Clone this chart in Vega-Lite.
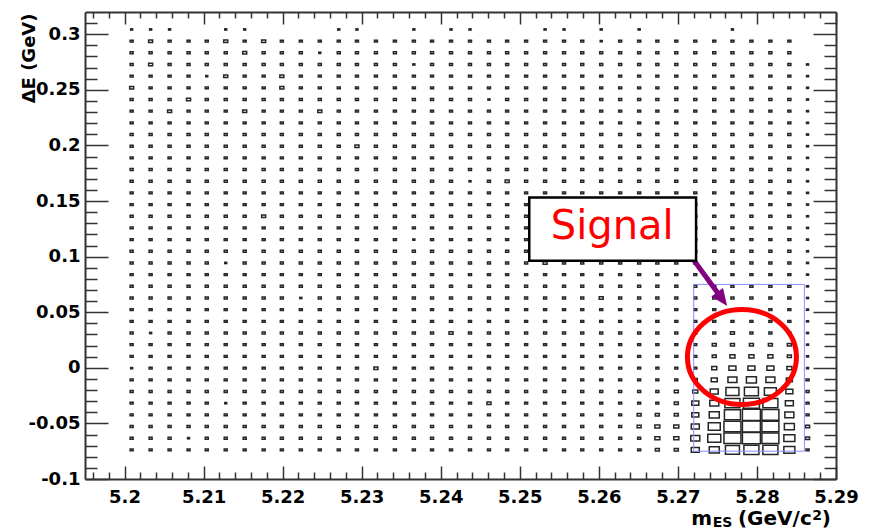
{
"$schema":"https://vega.github.io/schema/vega-lite/v6.json",
"width":751,"height":467,
"autosize":{"type":"none"},
"padding":{"left":85,"top":12,"right":34,"bottom":52},
"background":"white",
"config":{"view":{"stroke":null},"axis":{"grid":false,"domainColor":"#333","domainWidth":2,"tickColor":"#333","tickWidth":1.5,"labelFont":"DejaVu Sans","labelFontSize":18,"labelFontWeight":"bold","labelColor":"#000","titleFont":"DejaVu Sans","titleFontWeight":"bold","titleFontSize":18,"titleColor":"#000","labelFlush":false,"labelOverlap":false}},
"datasets":{"cells":[
{"mes":5.2009,"de":-0.0738,"n":3},{"mes":5.2033,"de":-0.0738,"n":3},{"mes":5.2057,"de":-0.0738,"n":3},{"mes":5.2081,"de":-0.0738,"n":3},{"mes":5.2104,"de":-0.0738,"n":3},{"mes":5.2128,"de":-0.0738,"n":3},{"mes":5.2152,"de":-0.0738,"n":3},{"mes":5.2176,"de":-0.0738,"n":3},{"mes":5.2199,"de":-0.0738,"n":3},{"mes":5.2223,"de":-0.0738,"n":3},{"mes":5.2247,"de":-0.0738,"n":3},{"mes":5.2271,"de":-0.0738,"n":3},{"mes":5.2294,"de":-0.0738,"n":3},{"mes":5.2318,"de":-0.0738,"n":3},{"mes":5.2342,"de":-0.0738,"n":3},{"mes":5.2366,"de":-0.0738,"n":3},{"mes":5.2389,"de":-0.0738,"n":3},{"mes":5.2413,"de":-0.0738,"n":3},{"mes":5.2437,"de":-0.0738,"n":3},{"mes":5.2461,"de":-0.0738,"n":3},{"mes":5.2484,"de":-0.0738,"n":3},{"mes":5.2508,"de":-0.0738,"n":3},{"mes":5.2532,"de":-0.0738,"n":3},{"mes":5.2556,"de":-0.0738,"n":3},{"mes":5.2579,"de":-0.0738,"n":3},{"mes":5.2603,"de":-0.0738,"n":3},{"mes":5.2627,"de":-0.0738,"n":3},{"mes":5.2651,"de":-0.0738,"n":3},{"mes":5.2674,"de":-0.0738,"n":4},{"mes":5.2698,"de":-0.0738,"n":4},{"mes":5.2722,"de":-0.0738,"n":8},{"mes":5.2746,"de":-0.0738,"n":10},{"mes":5.2769,"de":-0.0738,"n":14},{"mes":5.2793,"de":-0.0738,"n":15},{"mes":5.2817,"de":-0.0738,"n":15},{"mes":5.2841,"de":-0.0738,"n":11},{"mes":5.2864,"de":-0.0738,"n":3},
{"mes":5.2009,"de":-0.0633,"n":3},{"mes":5.2033,"de":-0.0633,"n":3},{"mes":5.2057,"de":-0.0633,"n":3},{"mes":5.2081,"de":-0.0633,"n":2},{"mes":5.2104,"de":-0.0633,"n":3},{"mes":5.2128,"de":-0.0633,"n":3},{"mes":5.2152,"de":-0.0633,"n":3},{"mes":5.2176,"de":-0.0633,"n":3},{"mes":5.2199,"de":-0.0633,"n":3},{"mes":5.2223,"de":-0.0633,"n":3},{"mes":5.2247,"de":-0.0633,"n":3},{"mes":5.2271,"de":-0.0633,"n":3},{"mes":5.2294,"de":-0.0633,"n":3},{"mes":5.2318,"de":-0.0633,"n":3},{"mes":5.2342,"de":-0.0633,"n":3},{"mes":5.2366,"de":-0.0633,"n":3},{"mes":5.2389,"de":-0.0633,"n":3},{"mes":5.2413,"de":-0.0633,"n":3},{"mes":5.2437,"de":-0.0633,"n":3},{"mes":5.2461,"de":-0.0633,"n":3},{"mes":5.2484,"de":-0.0633,"n":3},{"mes":5.2508,"de":-0.0633,"n":3},{"mes":5.2532,"de":-0.0633,"n":3},{"mes":5.2556,"de":-0.0633,"n":3},{"mes":5.2579,"de":-0.0633,"n":3},{"mes":5.2603,"de":-0.0633,"n":3},{"mes":5.2627,"de":-0.0633,"n":3},{"mes":5.2651,"de":-0.0633,"n":3},{"mes":5.2674,"de":-0.0633,"n":5},{"mes":5.2698,"de":-0.0633,"n":5},{"mes":5.2722,"de":-0.0633,"n":9},{"mes":5.2746,"de":-0.0633,"n":13},{"mes":5.2769,"de":-0.0633,"n":17},{"mes":5.2793,"de":-0.0633,"n":18},{"mes":5.2817,"de":-0.0633,"n":17},{"mes":5.2841,"de":-0.0633,"n":11},{"mes":5.2864,"de":-0.0633,"n":4},
{"mes":5.2009,"de":-0.0528,"n":3},{"mes":5.2033,"de":-0.0528,"n":3},{"mes":5.2057,"de":-0.0528,"n":3},{"mes":5.2081,"de":-0.0528,"n":3},{"mes":5.2104,"de":-0.0528,"n":3},{"mes":5.2128,"de":-0.0528,"n":3},{"mes":5.2152,"de":-0.0528,"n":3},{"mes":5.2176,"de":-0.0528,"n":3},{"mes":5.2199,"de":-0.0528,"n":3},{"mes":5.2223,"de":-0.0528,"n":3},{"mes":5.2247,"de":-0.0528,"n":3},{"mes":5.2271,"de":-0.0528,"n":3},{"mes":5.2294,"de":-0.0528,"n":3},{"mes":5.2318,"de":-0.0528,"n":3},{"mes":5.2342,"de":-0.0528,"n":3},{"mes":5.2366,"de":-0.0528,"n":3},{"mes":5.2389,"de":-0.0528,"n":3},{"mes":5.2413,"de":-0.0528,"n":3},{"mes":5.2437,"de":-0.0528,"n":3},{"mes":5.2461,"de":-0.0528,"n":3},{"mes":5.2484,"de":-0.0528,"n":3},{"mes":5.2508,"de":-0.0528,"n":3},{"mes":5.2532,"de":-0.0528,"n":3},{"mes":5.2556,"de":-0.0528,"n":3},{"mes":5.2579,"de":-0.0528,"n":3},{"mes":5.2603,"de":-0.0528,"n":3},{"mes":5.2627,"de":-0.0528,"n":3},{"mes":5.2651,"de":-0.0528,"n":4},{"mes":5.2674,"de":-0.0528,"n":5},{"mes":5.2698,"de":-0.0528,"n":5},{"mes":5.2722,"de":-0.0528,"n":8},{"mes":5.2746,"de":-0.0528,"n":12},{"mes":5.2769,"de":-0.0528,"n":17},{"mes":5.2793,"de":-0.0528,"n":18},{"mes":5.2817,"de":-0.0528,"n":17},{"mes":5.2841,"de":-0.0528,"n":10},{"mes":5.2864,"de":-0.0528,"n":4},
{"mes":5.2009,"de":-0.0423,"n":3},{"mes":5.2033,"de":-0.0423,"n":3},{"mes":5.2057,"de":-0.0423,"n":3},{"mes":5.2081,"de":-0.0423,"n":3},{"mes":5.2104,"de":-0.0423,"n":3},{"mes":5.2128,"de":-0.0423,"n":3},{"mes":5.2152,"de":-0.0423,"n":3},{"mes":5.2176,"de":-0.0423,"n":3},{"mes":5.2199,"de":-0.0423,"n":3},{"mes":5.2223,"de":-0.0423,"n":3},{"mes":5.2247,"de":-0.0423,"n":3},{"mes":5.2271,"de":-0.0423,"n":3},{"mes":5.2294,"de":-0.0423,"n":3},{"mes":5.2318,"de":-0.0423,"n":3},{"mes":5.2342,"de":-0.0423,"n":3},{"mes":5.2366,"de":-0.0423,"n":3},{"mes":5.2389,"de":-0.0423,"n":3},{"mes":5.2413,"de":-0.0423,"n":3},{"mes":5.2437,"de":-0.0423,"n":3},{"mes":5.2461,"de":-0.0423,"n":3},{"mes":5.2484,"de":-0.0423,"n":3},{"mes":5.2508,"de":-0.0423,"n":3},{"mes":5.2532,"de":-0.0423,"n":3},{"mes":5.2556,"de":-0.0423,"n":3},{"mes":5.2579,"de":-0.0423,"n":3},{"mes":5.2603,"de":-0.0423,"n":3},{"mes":5.2627,"de":-0.0423,"n":3},{"mes":5.2651,"de":-0.0423,"n":4},{"mes":5.2674,"de":-0.0423,"n":4},{"mes":5.2698,"de":-0.0423,"n":4},{"mes":5.2722,"de":-0.0423,"n":7},{"mes":5.2746,"de":-0.0423,"n":10},{"mes":5.2769,"de":-0.0423,"n":16},{"mes":5.2793,"de":-0.0423,"n":18},{"mes":5.2817,"de":-0.0423,"n":17},{"mes":5.2841,"de":-0.0423,"n":9},{"mes":5.2864,"de":-0.0423,"n":3},
{"mes":5.2009,"de":-0.0318,"n":3},{"mes":5.2033,"de":-0.0318,"n":3},{"mes":5.2057,"de":-0.0318,"n":3},{"mes":5.2081,"de":-0.0318,"n":3},{"mes":5.2104,"de":-0.0318,"n":3},{"mes":5.2128,"de":-0.0318,"n":2},{"mes":5.2152,"de":-0.0318,"n":3},{"mes":5.2176,"de":-0.0318,"n":3},{"mes":5.2199,"de":-0.0318,"n":3},{"mes":5.2223,"de":-0.0318,"n":3},{"mes":5.2247,"de":-0.0318,"n":3},{"mes":5.2271,"de":-0.0318,"n":3},{"mes":5.2294,"de":-0.0318,"n":3},{"mes":5.2318,"de":-0.0318,"n":3},{"mes":5.2342,"de":-0.0318,"n":3},{"mes":5.2366,"de":-0.0318,"n":3},{"mes":5.2389,"de":-0.0318,"n":3},{"mes":5.2413,"de":-0.0318,"n":3},{"mes":5.2437,"de":-0.0318,"n":3},{"mes":5.2461,"de":-0.0318,"n":4},{"mes":5.2484,"de":-0.0318,"n":3},{"mes":5.2508,"de":-0.0318,"n":3},{"mes":5.2532,"de":-0.0318,"n":3},{"mes":5.2556,"de":-0.0318,"n":3},{"mes":5.2579,"de":-0.0318,"n":3},{"mes":5.2603,"de":-0.0318,"n":3},{"mes":5.2627,"de":-0.0318,"n":3},{"mes":5.2651,"de":-0.0318,"n":3},{"mes":5.2674,"de":-0.0318,"n":3},{"mes":5.2698,"de":-0.0318,"n":4},{"mes":5.2722,"de":-0.0318,"n":7},{"mes":5.2746,"de":-0.0318,"n":9},{"mes":5.2769,"de":-0.0318,"n":15},{"mes":5.2793,"de":-0.0318,"n":16},{"mes":5.2817,"de":-0.0318,"n":15},{"mes":5.2841,"de":-0.0318,"n":8},{"mes":5.2864,"de":-0.0318,"n":3},
{"mes":5.2009,"de":-0.0213,"n":3},{"mes":5.2033,"de":-0.0213,"n":3},{"mes":5.2057,"de":-0.0213,"n":3},{"mes":5.2081,"de":-0.0213,"n":3},{"mes":5.2104,"de":-0.0213,"n":3},{"mes":5.2128,"de":-0.0213,"n":3},{"mes":5.2152,"de":-0.0213,"n":3},{"mes":5.2176,"de":-0.0213,"n":3},{"mes":5.2199,"de":-0.0213,"n":3},{"mes":5.2223,"de":-0.0213,"n":3},{"mes":5.2247,"de":-0.0213,"n":3},{"mes":5.2271,"de":-0.0213,"n":3},{"mes":5.2294,"de":-0.0213,"n":3},{"mes":5.2318,"de":-0.0213,"n":3},{"mes":5.2342,"de":-0.0213,"n":3},{"mes":5.2366,"de":-0.0213,"n":3},{"mes":5.2389,"de":-0.0213,"n":3},{"mes":5.2413,"de":-0.0213,"n":3},{"mes":5.2437,"de":-0.0213,"n":3},{"mes":5.2461,"de":-0.0213,"n":3},{"mes":5.2484,"de":-0.0213,"n":3},{"mes":5.2508,"de":-0.0213,"n":3},{"mes":5.2532,"de":-0.0213,"n":3},{"mes":5.2556,"de":-0.0213,"n":3},{"mes":5.2579,"de":-0.0213,"n":3},{"mes":5.2603,"de":-0.0213,"n":3},{"mes":5.2627,"de":-0.0213,"n":3},{"mes":5.2651,"de":-0.0213,"n":3},{"mes":5.2674,"de":-0.0213,"n":3},{"mes":5.2698,"de":-0.0213,"n":4},{"mes":5.2722,"de":-0.0213,"n":5},{"mes":5.2746,"de":-0.0213,"n":8},{"mes":5.2769,"de":-0.0213,"n":13},{"mes":5.2793,"de":-0.0213,"n":14},{"mes":5.2817,"de":-0.0213,"n":12},{"mes":5.2841,"de":-0.0213,"n":7},{"mes":5.2864,"de":-0.0213,"n":3},
{"mes":5.2009,"de":-0.0108,"n":3},{"mes":5.2033,"de":-0.0108,"n":3},{"mes":5.2057,"de":-0.0108,"n":3},{"mes":5.2081,"de":-0.0108,"n":3},{"mes":5.2104,"de":-0.0108,"n":3},{"mes":5.2128,"de":-0.0108,"n":3},{"mes":5.2152,"de":-0.0108,"n":3},{"mes":5.2176,"de":-0.0108,"n":3},{"mes":5.2199,"de":-0.0108,"n":3},{"mes":5.2223,"de":-0.0108,"n":3},{"mes":5.2247,"de":-0.0108,"n":3},{"mes":5.2271,"de":-0.0108,"n":3},{"mes":5.2294,"de":-0.0108,"n":3},{"mes":5.2318,"de":-0.0108,"n":3},{"mes":5.2342,"de":-0.0108,"n":3},{"mes":5.2366,"de":-0.0108,"n":3},{"mes":5.2389,"de":-0.0108,"n":3},{"mes":5.2413,"de":-0.0108,"n":3},{"mes":5.2437,"de":-0.0108,"n":3},{"mes":5.2461,"de":-0.0108,"n":3},{"mes":5.2484,"de":-0.0108,"n":3},{"mes":5.2508,"de":-0.0108,"n":3},{"mes":5.2532,"de":-0.0108,"n":3},{"mes":5.2556,"de":-0.0108,"n":3},{"mes":5.2579,"de":-0.0108,"n":3},{"mes":5.2603,"de":-0.0108,"n":3},{"mes":5.2627,"de":-0.0108,"n":3},{"mes":5.2651,"de":-0.0108,"n":3},{"mes":5.2674,"de":-0.0108,"n":3},{"mes":5.2698,"de":-0.0108,"n":3},{"mes":5.2722,"de":-0.0108,"n":4},{"mes":5.2746,"de":-0.0108,"n":6},{"mes":5.2769,"de":-0.0108,"n":9},{"mes":5.2793,"de":-0.0108,"n":10},{"mes":5.2817,"de":-0.0108,"n":9},{"mes":5.2841,"de":-0.0108,"n":6},{"mes":5.2864,"de":-0.0108,"n":3},
{"mes":5.2009,"de":-0.0003,"n":2},{"mes":5.2033,"de":-0.0003,"n":3},{"mes":5.2057,"de":-0.0003,"n":3},{"mes":5.2081,"de":-0.0003,"n":3},{"mes":5.2104,"de":-0.0003,"n":3},{"mes":5.2128,"de":-0.0003,"n":3},{"mes":5.2152,"de":-0.0003,"n":3},{"mes":5.2176,"de":-0.0003,"n":3},{"mes":5.2199,"de":-0.0003,"n":3},{"mes":5.2223,"de":-0.0003,"n":3},{"mes":5.2247,"de":-0.0003,"n":3},{"mes":5.2271,"de":-0.0003,"n":3},{"mes":5.2294,"de":-0.0003,"n":3},{"mes":5.2318,"de":-0.0003,"n":4},{"mes":5.2342,"de":-0.0003,"n":3},{"mes":5.2366,"de":-0.0003,"n":3},{"mes":5.2389,"de":-0.0003,"n":3},{"mes":5.2413,"de":-0.0003,"n":3},{"mes":5.2437,"de":-0.0003,"n":3},{"mes":5.2461,"de":-0.0003,"n":3},{"mes":5.2484,"de":-0.0003,"n":3},{"mes":5.2508,"de":-0.0003,"n":3},{"mes":5.2532,"de":-0.0003,"n":3},{"mes":5.2556,"de":-0.0003,"n":3},{"mes":5.2579,"de":-0.0003,"n":3},{"mes":5.2603,"de":-0.0003,"n":3},{"mes":5.2627,"de":-0.0003,"n":3},{"mes":5.2651,"de":-0.0003,"n":3},{"mes":5.2674,"de":-0.0003,"n":3},{"mes":5.2698,"de":-0.0003,"n":3},{"mes":5.2722,"de":-0.0003,"n":3},{"mes":5.2746,"de":-0.0003,"n":5},{"mes":5.2769,"de":-0.0003,"n":7},{"mes":5.2793,"de":-0.0003,"n":7},{"mes":5.2817,"de":-0.0003,"n":7},{"mes":5.2841,"de":-0.0003,"n":5},{"mes":5.2864,"de":-0.0003,"n":2},
{"mes":5.2009,"de":0.0103,"n":3},{"mes":5.2033,"de":0.0103,"n":3},{"mes":5.2057,"de":0.0103,"n":3},{"mes":5.2081,"de":0.0103,"n":3},{"mes":5.2104,"de":0.0103,"n":3},{"mes":5.2128,"de":0.0103,"n":3},{"mes":5.2152,"de":0.0103,"n":3},{"mes":5.2176,"de":0.0103,"n":3},{"mes":5.2199,"de":0.0103,"n":3},{"mes":5.2223,"de":0.0103,"n":3},{"mes":5.2247,"de":0.0103,"n":3},{"mes":5.2271,"de":0.0103,"n":3},{"mes":5.2294,"de":0.0103,"n":3},{"mes":5.2318,"de":0.0103,"n":3},{"mes":5.2342,"de":0.0103,"n":3},{"mes":5.2366,"de":0.0103,"n":3},{"mes":5.2389,"de":0.0103,"n":3},{"mes":5.2413,"de":0.0103,"n":3},{"mes":5.2437,"de":0.0103,"n":3},{"mes":5.2461,"de":0.0103,"n":3},{"mes":5.2484,"de":0.0103,"n":3},{"mes":5.2508,"de":0.0103,"n":3},{"mes":5.2532,"de":0.0103,"n":3},{"mes":5.2556,"de":0.0103,"n":3},{"mes":5.2579,"de":0.0103,"n":3},{"mes":5.2603,"de":0.0103,"n":3},{"mes":5.2627,"de":0.0103,"n":3},{"mes":5.2651,"de":0.0103,"n":3},{"mes":5.2674,"de":0.0103,"n":3},{"mes":5.2698,"de":0.0103,"n":3},{"mes":5.2722,"de":0.0103,"n":3},{"mes":5.2746,"de":0.0103,"n":4},{"mes":5.2769,"de":0.0103,"n":5},{"mes":5.2793,"de":0.0103,"n":5},{"mes":5.2817,"de":0.0103,"n":5},{"mes":5.2841,"de":0.0103,"n":4},{"mes":5.2864,"de":0.0103,"n":2},
{"mes":5.2009,"de":0.0208,"n":3},{"mes":5.2033,"de":0.0208,"n":3},{"mes":5.2057,"de":0.0208,"n":3},{"mes":5.2081,"de":0.0208,"n":3},{"mes":5.2104,"de":0.0208,"n":3},{"mes":5.2128,"de":0.0208,"n":3},{"mes":5.2152,"de":0.0208,"n":3},{"mes":5.2176,"de":0.0208,"n":3},{"mes":5.2199,"de":0.0208,"n":3},{"mes":5.2223,"de":0.0208,"n":3},{"mes":5.2247,"de":0.0208,"n":3},{"mes":5.2271,"de":0.0208,"n":3},{"mes":5.2294,"de":0.0208,"n":3},{"mes":5.2318,"de":0.0208,"n":3},{"mes":5.2342,"de":0.0208,"n":3},{"mes":5.2366,"de":0.0208,"n":3},{"mes":5.2389,"de":0.0208,"n":3},{"mes":5.2413,"de":0.0208,"n":3},{"mes":5.2437,"de":0.0208,"n":3},{"mes":5.2461,"de":0.0208,"n":3},{"mes":5.2484,"de":0.0208,"n":3},{"mes":5.2508,"de":0.0208,"n":3},{"mes":5.2532,"de":0.0208,"n":3},{"mes":5.2556,"de":0.0208,"n":3},{"mes":5.2579,"de":0.0208,"n":3},{"mes":5.2603,"de":0.0208,"n":3},{"mes":5.2627,"de":0.0208,"n":3},{"mes":5.2651,"de":0.0208,"n":3},{"mes":5.2674,"de":0.0208,"n":3},{"mes":5.2698,"de":0.0208,"n":3},{"mes":5.2722,"de":0.0208,"n":3},{"mes":5.2746,"de":0.0208,"n":4},{"mes":5.2769,"de":0.0208,"n":4},{"mes":5.2793,"de":0.0208,"n":4},{"mes":5.2817,"de":0.0208,"n":4},{"mes":5.2841,"de":0.0208,"n":4},{"mes":5.2864,"de":0.0208,"n":2},
{"mes":5.2009,"de":0.0313,"n":3},{"mes":5.2033,"de":0.0313,"n":2},{"mes":5.2057,"de":0.0313,"n":3},{"mes":5.2081,"de":0.0313,"n":3},{"mes":5.2104,"de":0.0313,"n":3},{"mes":5.2128,"de":0.0313,"n":3},{"mes":5.2152,"de":0.0313,"n":3},{"mes":5.2176,"de":0.0313,"n":3},{"mes":5.2199,"de":0.0313,"n":3},{"mes":5.2223,"de":0.0313,"n":3},{"mes":5.2247,"de":0.0313,"n":3},{"mes":5.2271,"de":0.0313,"n":3},{"mes":5.2294,"de":0.0313,"n":3},{"mes":5.2318,"de":0.0313,"n":3},{"mes":5.2342,"de":0.0313,"n":3},{"mes":5.2366,"de":0.0313,"n":3},{"mes":5.2389,"de":0.0313,"n":3},{"mes":5.2413,"de":0.0313,"n":4},{"mes":5.2437,"de":0.0313,"n":3},{"mes":5.2461,"de":0.0313,"n":3},{"mes":5.2484,"de":0.0313,"n":3},{"mes":5.2508,"de":0.0313,"n":3},{"mes":5.2532,"de":0.0313,"n":3},{"mes":5.2556,"de":0.0313,"n":3},{"mes":5.2579,"de":0.0313,"n":3},{"mes":5.2603,"de":0.0313,"n":3},{"mes":5.2627,"de":0.0313,"n":3},{"mes":5.2651,"de":0.0313,"n":3},{"mes":5.2674,"de":0.0313,"n":3},{"mes":5.2698,"de":0.0313,"n":3},{"mes":5.2722,"de":0.0313,"n":3},{"mes":5.2746,"de":0.0313,"n":3},{"mes":5.2769,"de":0.0313,"n":4},{"mes":5.2793,"de":0.0313,"n":3},{"mes":5.2817,"de":0.0313,"n":3},{"mes":5.2841,"de":0.0313,"n":3},{"mes":5.2864,"de":0.0313,"n":2},
{"mes":5.2009,"de":0.0418,"n":3},{"mes":5.2033,"de":0.0418,"n":3},{"mes":5.2057,"de":0.0418,"n":3},{"mes":5.2081,"de":0.0418,"n":3},{"mes":5.2104,"de":0.0418,"n":3},{"mes":5.2128,"de":0.0418,"n":3},{"mes":5.2152,"de":0.0418,"n":3},{"mes":5.2176,"de":0.0418,"n":3},{"mes":5.2199,"de":0.0418,"n":3},{"mes":5.2223,"de":0.0418,"n":3},{"mes":5.2247,"de":0.0418,"n":3},{"mes":5.2271,"de":0.0418,"n":3},{"mes":5.2294,"de":0.0418,"n":3},{"mes":5.2318,"de":0.0418,"n":3},{"mes":5.2342,"de":0.0418,"n":3},{"mes":5.2366,"de":0.0418,"n":3},{"mes":5.2389,"de":0.0418,"n":3},{"mes":5.2413,"de":0.0418,"n":3},{"mes":5.2437,"de":0.0418,"n":3},{"mes":5.2461,"de":0.0418,"n":3},{"mes":5.2484,"de":0.0418,"n":3},{"mes":5.2508,"de":0.0418,"n":3},{"mes":5.2532,"de":0.0418,"n":3},{"mes":5.2556,"de":0.0418,"n":3},{"mes":5.2579,"de":0.0418,"n":3},{"mes":5.2603,"de":0.0418,"n":3},{"mes":5.2627,"de":0.0418,"n":3},{"mes":5.2651,"de":0.0418,"n":3},{"mes":5.2674,"de":0.0418,"n":3},{"mes":5.2698,"de":0.0418,"n":3},{"mes":5.2722,"de":0.0418,"n":3},{"mes":5.2746,"de":0.0418,"n":3},{"mes":5.2769,"de":0.0418,"n":3},{"mes":5.2793,"de":0.0418,"n":3},{"mes":5.2817,"de":0.0418,"n":3},{"mes":5.2841,"de":0.0418,"n":3},{"mes":5.2864,"de":0.0418,"n":2},
{"mes":5.2009,"de":0.0523,"n":3},{"mes":5.2033,"de":0.0523,"n":3},{"mes":5.2057,"de":0.0523,"n":3},{"mes":5.2081,"de":0.0523,"n":3},{"mes":5.2104,"de":0.0523,"n":3},{"mes":5.2128,"de":0.0523,"n":3},{"mes":5.2152,"de":0.0523,"n":3},{"mes":5.2176,"de":0.0523,"n":3},{"mes":5.2199,"de":0.0523,"n":3},{"mes":5.2223,"de":0.0523,"n":3},{"mes":5.2247,"de":0.0523,"n":3},{"mes":5.2271,"de":0.0523,"n":3},{"mes":5.2294,"de":0.0523,"n":3},{"mes":5.2318,"de":0.0523,"n":3},{"mes":5.2342,"de":0.0523,"n":3},{"mes":5.2366,"de":0.0523,"n":3},{"mes":5.2389,"de":0.0523,"n":3},{"mes":5.2413,"de":0.0523,"n":3},{"mes":5.2437,"de":0.0523,"n":3},{"mes":5.2461,"de":0.0523,"n":3},{"mes":5.2484,"de":0.0523,"n":3},{"mes":5.2508,"de":0.0523,"n":3},{"mes":5.2532,"de":0.0523,"n":3},{"mes":5.2556,"de":0.0523,"n":3},{"mes":5.2579,"de":0.0523,"n":3},{"mes":5.2603,"de":0.0523,"n":3},{"mes":5.2627,"de":0.0523,"n":3},{"mes":5.2651,"de":0.0523,"n":3},{"mes":5.2674,"de":0.0523,"n":3},{"mes":5.2698,"de":0.0523,"n":3},{"mes":5.2722,"de":0.0523,"n":3},{"mes":5.2746,"de":0.0523,"n":3},{"mes":5.2769,"de":0.0523,"n":3},{"mes":5.2793,"de":0.0523,"n":3},{"mes":5.2817,"de":0.0523,"n":3},{"mes":5.2841,"de":0.0523,"n":3},{"mes":5.2864,"de":0.0523,"n":2},
{"mes":5.2009,"de":0.0628,"n":3},{"mes":5.2033,"de":0.0628,"n":3},{"mes":5.2057,"de":0.0628,"n":3},{"mes":5.2081,"de":0.0628,"n":3},{"mes":5.2104,"de":0.0628,"n":3},{"mes":5.2128,"de":0.0628,"n":3},{"mes":5.2152,"de":0.0628,"n":3},{"mes":5.2176,"de":0.0628,"n":3},{"mes":5.2199,"de":0.0628,"n":3},{"mes":5.2223,"de":0.0628,"n":2},{"mes":5.2247,"de":0.0628,"n":3},{"mes":5.2271,"de":0.0628,"n":3},{"mes":5.2294,"de":0.0628,"n":3},{"mes":5.2318,"de":0.0628,"n":3},{"mes":5.2342,"de":0.0628,"n":3},{"mes":5.2366,"de":0.0628,"n":3},{"mes":5.2389,"de":0.0628,"n":3},{"mes":5.2413,"de":0.0628,"n":3},{"mes":5.2437,"de":0.0628,"n":3},{"mes":5.2461,"de":0.0628,"n":3},{"mes":5.2484,"de":0.0628,"n":3},{"mes":5.2508,"de":0.0628,"n":3},{"mes":5.2532,"de":0.0628,"n":3},{"mes":5.2556,"de":0.0628,"n":3},{"mes":5.2579,"de":0.0628,"n":3},{"mes":5.2603,"de":0.0628,"n":4},{"mes":5.2627,"de":0.0628,"n":3},{"mes":5.2651,"de":0.0628,"n":3},{"mes":5.2674,"de":0.0628,"n":3},{"mes":5.2698,"de":0.0628,"n":3},{"mes":5.2722,"de":0.0628,"n":3},{"mes":5.2746,"de":0.0628,"n":3},{"mes":5.2769,"de":0.0628,"n":3},{"mes":5.2793,"de":0.0628,"n":3},{"mes":5.2817,"de":0.0628,"n":3},{"mes":5.2841,"de":0.0628,"n":3},{"mes":5.2864,"de":0.0628,"n":2},
{"mes":5.2009,"de":0.0733,"n":3},{"mes":5.2033,"de":0.0733,"n":3},{"mes":5.2057,"de":0.0733,"n":3},{"mes":5.2081,"de":0.0733,"n":3},{"mes":5.2104,"de":0.0733,"n":3},{"mes":5.2128,"de":0.0733,"n":3},{"mes":5.2152,"de":0.0733,"n":3},{"mes":5.2176,"de":0.0733,"n":3},{"mes":5.2199,"de":0.0733,"n":3},{"mes":5.2223,"de":0.0733,"n":3},{"mes":5.2247,"de":0.0733,"n":3},{"mes":5.2271,"de":0.0733,"n":3},{"mes":5.2294,"de":0.0733,"n":3},{"mes":5.2318,"de":0.0733,"n":3},{"mes":5.2342,"de":0.0733,"n":3},{"mes":5.2366,"de":0.0733,"n":3},{"mes":5.2389,"de":0.0733,"n":3},{"mes":5.2413,"de":0.0733,"n":3},{"mes":5.2437,"de":0.0733,"n":3},{"mes":5.2461,"de":0.0733,"n":3},{"mes":5.2484,"de":0.0733,"n":3},{"mes":5.2508,"de":0.0733,"n":3},{"mes":5.2532,"de":0.0733,"n":3},{"mes":5.2556,"de":0.0733,"n":3},{"mes":5.2579,"de":0.0733,"n":3},{"mes":5.2603,"de":0.0733,"n":3},{"mes":5.2627,"de":0.0733,"n":3},{"mes":5.2651,"de":0.0733,"n":3},{"mes":5.2674,"de":0.0733,"n":3},{"mes":5.2698,"de":0.0733,"n":3},{"mes":5.2722,"de":0.0733,"n":3},{"mes":5.2746,"de":0.0733,"n":3},{"mes":5.2769,"de":0.0733,"n":3},{"mes":5.2793,"de":0.0733,"n":3},{"mes":5.2817,"de":0.0733,"n":3},{"mes":5.2841,"de":0.0733,"n":3},{"mes":5.2864,"de":0.0733,"n":2},
{"mes":5.2009,"de":0.0838,"n":3},{"mes":5.2033,"de":0.0838,"n":3},{"mes":5.2057,"de":0.0838,"n":3},{"mes":5.2081,"de":0.0838,"n":3},{"mes":5.2104,"de":0.0838,"n":3},{"mes":5.2128,"de":0.0838,"n":3},{"mes":5.2152,"de":0.0838,"n":3},{"mes":5.2176,"de":0.0838,"n":3},{"mes":5.2199,"de":0.0838,"n":3},{"mes":5.2223,"de":0.0838,"n":3},{"mes":5.2247,"de":0.0838,"n":3},{"mes":5.2271,"de":0.0838,"n":3},{"mes":5.2294,"de":0.0838,"n":3},{"mes":5.2318,"de":0.0838,"n":3},{"mes":5.2342,"de":0.0838,"n":3},{"mes":5.2366,"de":0.0838,"n":3},{"mes":5.2389,"de":0.0838,"n":3},{"mes":5.2413,"de":0.0838,"n":3},{"mes":5.2437,"de":0.0838,"n":3},{"mes":5.2461,"de":0.0838,"n":3},{"mes":5.2484,"de":0.0838,"n":3},{"mes":5.2508,"de":0.0838,"n":3},{"mes":5.2532,"de":0.0838,"n":3},{"mes":5.2556,"de":0.0838,"n":3},{"mes":5.2579,"de":0.0838,"n":3},{"mes":5.2603,"de":0.0838,"n":3},{"mes":5.2627,"de":0.0838,"n":3},{"mes":5.2651,"de":0.0838,"n":3},{"mes":5.2674,"de":0.0838,"n":3},{"mes":5.2698,"de":0.0838,"n":3},{"mes":5.2722,"de":0.0838,"n":3},{"mes":5.2746,"de":0.0838,"n":3},{"mes":5.2769,"de":0.0838,"n":3},{"mes":5.2793,"de":0.0838,"n":3},{"mes":5.2817,"de":0.0838,"n":3},{"mes":5.2841,"de":0.0838,"n":3},{"mes":5.2864,"de":0.0838,"n":2},
{"mes":5.2009,"de":0.0943,"n":3},{"mes":5.2033,"de":0.0943,"n":3},{"mes":5.2057,"de":0.0943,"n":3},{"mes":5.2081,"de":0.0943,"n":3},{"mes":5.2104,"de":0.0943,"n":3},{"mes":5.2128,"de":0.0943,"n":2},{"mes":5.2152,"de":0.0943,"n":3},{"mes":5.2176,"de":0.0943,"n":3},{"mes":5.2199,"de":0.0943,"n":3},{"mes":5.2223,"de":0.0943,"n":3},{"mes":5.2247,"de":0.0943,"n":3},{"mes":5.2271,"de":0.0943,"n":3},{"mes":5.2294,"de":0.0943,"n":3},{"mes":5.2318,"de":0.0943,"n":3},{"mes":5.2342,"de":0.0943,"n":3},{"mes":5.2366,"de":0.0943,"n":3},{"mes":5.2389,"de":0.0943,"n":3},{"mes":5.2413,"de":0.0943,"n":3},{"mes":5.2437,"de":0.0943,"n":3},{"mes":5.2461,"de":0.0943,"n":3},{"mes":5.2484,"de":0.0943,"n":3},{"mes":5.2508,"de":0.0943,"n":3},{"mes":5.2532,"de":0.0943,"n":4},{"mes":5.2556,"de":0.0943,"n":3},{"mes":5.2579,"de":0.0943,"n":3},{"mes":5.2603,"de":0.0943,"n":3},{"mes":5.2627,"de":0.0943,"n":3},{"mes":5.2651,"de":0.0943,"n":3},{"mes":5.2674,"de":0.0943,"n":3},{"mes":5.2698,"de":0.0943,"n":3},{"mes":5.2722,"de":0.0943,"n":3},{"mes":5.2746,"de":0.0943,"n":3},{"mes":5.2769,"de":0.0943,"n":3},{"mes":5.2793,"de":0.0943,"n":3},{"mes":5.2817,"de":0.0943,"n":3},{"mes":5.2841,"de":0.0943,"n":3},{"mes":5.2864,"de":0.0943,"n":2},
{"mes":5.2009,"de":0.1048,"n":3},{"mes":5.2033,"de":0.1048,"n":3},{"mes":5.2057,"de":0.1048,"n":3},{"mes":5.2081,"de":0.1048,"n":3},{"mes":5.2104,"de":0.1048,"n":3},{"mes":5.2128,"de":0.1048,"n":3},{"mes":5.2152,"de":0.1048,"n":3},{"mes":5.2176,"de":0.1048,"n":3},{"mes":5.2199,"de":0.1048,"n":3},{"mes":5.2223,"de":0.1048,"n":3},{"mes":5.2247,"de":0.1048,"n":3},{"mes":5.2271,"de":0.1048,"n":3},{"mes":5.2294,"de":0.1048,"n":3},{"mes":5.2318,"de":0.1048,"n":3},{"mes":5.2342,"de":0.1048,"n":3},{"mes":5.2366,"de":0.1048,"n":3},{"mes":5.2389,"de":0.1048,"n":3},{"mes":5.2413,"de":0.1048,"n":3},{"mes":5.2437,"de":0.1048,"n":3},{"mes":5.2461,"de":0.1048,"n":3},{"mes":5.2484,"de":0.1048,"n":3},{"mes":5.2508,"de":0.1048,"n":3},{"mes":5.2532,"de":0.1048,"n":3},{"mes":5.2556,"de":0.1048,"n":3},{"mes":5.2579,"de":0.1048,"n":3},{"mes":5.2603,"de":0.1048,"n":3},{"mes":5.2627,"de":0.1048,"n":3},{"mes":5.2651,"de":0.1048,"n":3},{"mes":5.2674,"de":0.1048,"n":3},{"mes":5.2698,"de":0.1048,"n":3},{"mes":5.2722,"de":0.1048,"n":3},{"mes":5.2746,"de":0.1048,"n":3},{"mes":5.2769,"de":0.1048,"n":3},{"mes":5.2793,"de":0.1048,"n":3},{"mes":5.2817,"de":0.1048,"n":3},{"mes":5.2841,"de":0.1048,"n":3},{"mes":5.2864,"de":0.1048,"n":2},
{"mes":5.2009,"de":0.1153,"n":3},{"mes":5.2033,"de":0.1153,"n":3},{"mes":5.2057,"de":0.1153,"n":3},{"mes":5.2081,"de":0.1153,"n":3},{"mes":5.2104,"de":0.1153,"n":3},{"mes":5.2128,"de":0.1153,"n":3},{"mes":5.2152,"de":0.1153,"n":3},{"mes":5.2176,"de":0.1153,"n":3},{"mes":5.2199,"de":0.1153,"n":3},{"mes":5.2223,"de":0.1153,"n":3},{"mes":5.2247,"de":0.1153,"n":3},{"mes":5.2271,"de":0.1153,"n":3},{"mes":5.2294,"de":0.1153,"n":3},{"mes":5.2318,"de":0.1153,"n":3},{"mes":5.2342,"de":0.1153,"n":3},{"mes":5.2366,"de":0.1153,"n":2},{"mes":5.2389,"de":0.1153,"n":3},{"mes":5.2413,"de":0.1153,"n":3},{"mes":5.2437,"de":0.1153,"n":3},{"mes":5.2461,"de":0.1153,"n":3},{"mes":5.2484,"de":0.1153,"n":3},{"mes":5.2508,"de":0.1153,"n":3},{"mes":5.2532,"de":0.1153,"n":3},{"mes":5.2556,"de":0.1153,"n":3},{"mes":5.2579,"de":0.1153,"n":3},{"mes":5.2603,"de":0.1153,"n":3},{"mes":5.2627,"de":0.1153,"n":3},{"mes":5.2651,"de":0.1153,"n":3},{"mes":5.2674,"de":0.1153,"n":3},{"mes":5.2698,"de":0.1153,"n":3},{"mes":5.2722,"de":0.1153,"n":3},{"mes":5.2746,"de":0.1153,"n":3},{"mes":5.2769,"de":0.1153,"n":3},{"mes":5.2793,"de":0.1153,"n":3},{"mes":5.2817,"de":0.1153,"n":3},{"mes":5.2841,"de":0.1153,"n":3},{"mes":5.2864,"de":0.1153,"n":2},
{"mes":5.2009,"de":0.1258,"n":3},{"mes":5.2033,"de":0.1258,"n":3},{"mes":5.2057,"de":0.1258,"n":3},{"mes":5.2081,"de":0.1258,"n":3},{"mes":5.2104,"de":0.1258,"n":3},{"mes":5.2128,"de":0.1258,"n":3},{"mes":5.2152,"de":0.1258,"n":3},{"mes":5.2176,"de":0.1258,"n":3},{"mes":5.2199,"de":0.1258,"n":3},{"mes":5.2223,"de":0.1258,"n":3},{"mes":5.2247,"de":0.1258,"n":3},{"mes":5.2271,"de":0.1258,"n":3},{"mes":5.2294,"de":0.1258,"n":3},{"mes":5.2318,"de":0.1258,"n":3},{"mes":5.2342,"de":0.1258,"n":3},{"mes":5.2366,"de":0.1258,"n":3},{"mes":5.2389,"de":0.1258,"n":3},{"mes":5.2413,"de":0.1258,"n":3},{"mes":5.2437,"de":0.1258,"n":3},{"mes":5.2461,"de":0.1258,"n":3},{"mes":5.2484,"de":0.1258,"n":3},{"mes":5.2508,"de":0.1258,"n":3},{"mes":5.2532,"de":0.1258,"n":3},{"mes":5.2556,"de":0.1258,"n":3},{"mes":5.2579,"de":0.1258,"n":3},{"mes":5.2603,"de":0.1258,"n":3},{"mes":5.2627,"de":0.1258,"n":3},{"mes":5.2651,"de":0.1258,"n":3},{"mes":5.2674,"de":0.1258,"n":3},{"mes":5.2698,"de":0.1258,"n":3},{"mes":5.2722,"de":0.1258,"n":3},{"mes":5.2746,"de":0.1258,"n":3},{"mes":5.2769,"de":0.1258,"n":3},{"mes":5.2793,"de":0.1258,"n":3},{"mes":5.2817,"de":0.1258,"n":3},{"mes":5.2841,"de":0.1258,"n":3},{"mes":5.2864,"de":0.1258,"n":2},
{"mes":5.2009,"de":0.1363,"n":3},{"mes":5.2033,"de":0.1363,"n":3},{"mes":5.2057,"de":0.1363,"n":3},{"mes":5.2081,"de":0.1363,"n":3},{"mes":5.2104,"de":0.1363,"n":3},{"mes":5.2128,"de":0.1363,"n":3},{"mes":5.2152,"de":0.1363,"n":3},{"mes":5.2176,"de":0.1363,"n":4},{"mes":5.2199,"de":0.1363,"n":3},{"mes":5.2223,"de":0.1363,"n":3},{"mes":5.2247,"de":0.1363,"n":3},{"mes":5.2271,"de":0.1363,"n":3},{"mes":5.2294,"de":0.1363,"n":3},{"mes":5.2318,"de":0.1363,"n":3},{"mes":5.2342,"de":0.1363,"n":3},{"mes":5.2366,"de":0.1363,"n":3},{"mes":5.2389,"de":0.1363,"n":3},{"mes":5.2413,"de":0.1363,"n":3},{"mes":5.2437,"de":0.1363,"n":3},{"mes":5.2461,"de":0.1363,"n":3},{"mes":5.2484,"de":0.1363,"n":3},{"mes":5.2508,"de":0.1363,"n":3},{"mes":5.2532,"de":0.1363,"n":3},{"mes":5.2556,"de":0.1363,"n":3},{"mes":5.2579,"de":0.1363,"n":3},{"mes":5.2603,"de":0.1363,"n":3},{"mes":5.2627,"de":0.1363,"n":3},{"mes":5.2651,"de":0.1363,"n":3},{"mes":5.2674,"de":0.1363,"n":3},{"mes":5.2698,"de":0.1363,"n":3},{"mes":5.2722,"de":0.1363,"n":3},{"mes":5.2746,"de":0.1363,"n":3},{"mes":5.2769,"de":0.1363,"n":3},{"mes":5.2793,"de":0.1363,"n":3},{"mes":5.2817,"de":0.1363,"n":3},{"mes":5.2841,"de":0.1363,"n":3},{"mes":5.2864,"de":0.1363,"n":2},
{"mes":5.2009,"de":0.1468,"n":3},{"mes":5.2033,"de":0.1468,"n":3},{"mes":5.2057,"de":0.1468,"n":3},{"mes":5.2081,"de":0.1468,"n":3},{"mes":5.2104,"de":0.1468,"n":3},{"mes":5.2128,"de":0.1468,"n":3},{"mes":5.2152,"de":0.1468,"n":3},{"mes":5.2176,"de":0.1468,"n":3},{"mes":5.2199,"de":0.1468,"n":3},{"mes":5.2223,"de":0.1468,"n":3},{"mes":5.2247,"de":0.1468,"n":3},{"mes":5.2271,"de":0.1468,"n":3},{"mes":5.2294,"de":0.1468,"n":3},{"mes":5.2318,"de":0.1468,"n":3},{"mes":5.2342,"de":0.1468,"n":3},{"mes":5.2366,"de":0.1468,"n":3},{"mes":5.2389,"de":0.1468,"n":3},{"mes":5.2413,"de":0.1468,"n":3},{"mes":5.2437,"de":0.1468,"n":3},{"mes":5.2461,"de":0.1468,"n":3},{"mes":5.2484,"de":0.1468,"n":3},{"mes":5.2508,"de":0.1468,"n":3},{"mes":5.2532,"de":0.1468,"n":3},{"mes":5.2556,"de":0.1468,"n":3},{"mes":5.2579,"de":0.1468,"n":3},{"mes":5.2603,"de":0.1468,"n":3},{"mes":5.2627,"de":0.1468,"n":3},{"mes":5.2651,"de":0.1468,"n":3},{"mes":5.2674,"de":0.1468,"n":3},{"mes":5.2698,"de":0.1468,"n":3},{"mes":5.2722,"de":0.1468,"n":3},{"mes":5.2746,"de":0.1468,"n":3},{"mes":5.2769,"de":0.1468,"n":3},{"mes":5.2793,"de":0.1468,"n":3},{"mes":5.2817,"de":0.1468,"n":3},{"mes":5.2841,"de":0.1468,"n":3},{"mes":5.2864,"de":0.1468,"n":2},
{"mes":5.2009,"de":0.1573,"n":3},{"mes":5.2033,"de":0.1573,"n":3},{"mes":5.2057,"de":0.1573,"n":3},{"mes":5.2081,"de":0.1573,"n":3},{"mes":5.2104,"de":0.1573,"n":3},{"mes":5.2128,"de":0.1573,"n":3},{"mes":5.2152,"de":0.1573,"n":3},{"mes":5.2176,"de":0.1573,"n":3},{"mes":5.2199,"de":0.1573,"n":3},{"mes":5.2223,"de":0.1573,"n":3},{"mes":5.2247,"de":0.1573,"n":3},{"mes":5.2271,"de":0.1573,"n":3},{"mes":5.2294,"de":0.1573,"n":3},{"mes":5.2318,"de":0.1573,"n":3},{"mes":5.2342,"de":0.1573,"n":3},{"mes":5.2366,"de":0.1573,"n":3},{"mes":5.2389,"de":0.1573,"n":3},{"mes":5.2413,"de":0.1573,"n":3},{"mes":5.2437,"de":0.1573,"n":3},{"mes":5.2461,"de":0.1573,"n":3},{"mes":5.2484,"de":0.1573,"n":3},{"mes":5.2508,"de":0.1573,"n":3},{"mes":5.2532,"de":0.1573,"n":3},{"mes":5.2556,"de":0.1573,"n":3},{"mes":5.2579,"de":0.1573,"n":3},{"mes":5.2603,"de":0.1573,"n":3},{"mes":5.2627,"de":0.1573,"n":3},{"mes":5.2651,"de":0.1573,"n":3},{"mes":5.2674,"de":0.1573,"n":3},{"mes":5.2698,"de":0.1573,"n":3},{"mes":5.2722,"de":0.1573,"n":3},{"mes":5.2746,"de":0.1573,"n":3},{"mes":5.2769,"de":0.1573,"n":3},{"mes":5.2793,"de":0.1573,"n":3},{"mes":5.2817,"de":0.1573,"n":3},{"mes":5.2841,"de":0.1573,"n":3},{"mes":5.2864,"de":0.1573,"n":2},
{"mes":5.2009,"de":0.1678,"n":3},{"mes":5.2033,"de":0.1678,"n":3},{"mes":5.2057,"de":0.1678,"n":3},{"mes":5.2081,"de":0.1678,"n":3},{"mes":5.2104,"de":0.1678,"n":3},{"mes":5.2128,"de":0.1678,"n":3},{"mes":5.2152,"de":0.1678,"n":3},{"mes":5.2176,"de":0.1678,"n":3},{"mes":5.2199,"de":0.1678,"n":3},{"mes":5.2223,"de":0.1678,"n":3},{"mes":5.2247,"de":0.1678,"n":3},{"mes":5.2271,"de":0.1678,"n":3},{"mes":5.2294,"de":0.1678,"n":3},{"mes":5.2318,"de":0.1678,"n":3},{"mes":5.2342,"de":0.1678,"n":3},{"mes":5.2366,"de":0.1678,"n":3},{"mes":5.2389,"de":0.1678,"n":3},{"mes":5.2413,"de":0.1678,"n":3},{"mes":5.2437,"de":0.1678,"n":2},{"mes":5.2461,"de":0.1678,"n":3},{"mes":5.2484,"de":0.1678,"n":4},{"mes":5.2508,"de":0.1678,"n":3},{"mes":5.2532,"de":0.1678,"n":3},{"mes":5.2556,"de":0.1678,"n":3},{"mes":5.2579,"de":0.1678,"n":3},{"mes":5.2603,"de":0.1678,"n":3},{"mes":5.2627,"de":0.1678,"n":3},{"mes":5.2651,"de":0.1678,"n":3},{"mes":5.2674,"de":0.1678,"n":3},{"mes":5.2698,"de":0.1678,"n":3},{"mes":5.2722,"de":0.1678,"n":3},{"mes":5.2746,"de":0.1678,"n":3},{"mes":5.2769,"de":0.1678,"n":3},{"mes":5.2793,"de":0.1678,"n":3},{"mes":5.2817,"de":0.1678,"n":3},{"mes":5.2841,"de":0.1678,"n":3},{"mes":5.2864,"de":0.1678,"n":2},
{"mes":5.2009,"de":0.1783,"n":3},{"mes":5.2033,"de":0.1783,"n":3},{"mes":5.2057,"de":0.1783,"n":3},{"mes":5.2081,"de":0.1783,"n":3},{"mes":5.2104,"de":0.1783,"n":3},{"mes":5.2128,"de":0.1783,"n":3},{"mes":5.2152,"de":0.1783,"n":3},{"mes":5.2176,"de":0.1783,"n":3},{"mes":5.2199,"de":0.1783,"n":3},{"mes":5.2223,"de":0.1783,"n":3},{"mes":5.2247,"de":0.1783,"n":3},{"mes":5.2271,"de":0.1783,"n":3},{"mes":5.2294,"de":0.1783,"n":3},{"mes":5.2318,"de":0.1783,"n":3},{"mes":5.2342,"de":0.1783,"n":3},{"mes":5.2366,"de":0.1783,"n":3},{"mes":5.2389,"de":0.1783,"n":3},{"mes":5.2413,"de":0.1783,"n":3},{"mes":5.2437,"de":0.1783,"n":3},{"mes":5.2461,"de":0.1783,"n":3},{"mes":5.2484,"de":0.1783,"n":3},{"mes":5.2508,"de":0.1783,"n":3},{"mes":5.2532,"de":0.1783,"n":3},{"mes":5.2556,"de":0.1783,"n":3},{"mes":5.2579,"de":0.1783,"n":3},{"mes":5.2603,"de":0.1783,"n":3},{"mes":5.2627,"de":0.1783,"n":3},{"mes":5.2651,"de":0.1783,"n":3},{"mes":5.2674,"de":0.1783,"n":3},{"mes":5.2698,"de":0.1783,"n":3},{"mes":5.2722,"de":0.1783,"n":3},{"mes":5.2746,"de":0.1783,"n":3},{"mes":5.2769,"de":0.1783,"n":3},{"mes":5.2793,"de":0.1783,"n":3},{"mes":5.2817,"de":0.1783,"n":3},{"mes":5.2841,"de":0.1783,"n":3},{"mes":5.2864,"de":0.1783,"n":2},
{"mes":5.2009,"de":0.1888,"n":3},{"mes":5.2033,"de":0.1888,"n":3},{"mes":5.2057,"de":0.1888,"n":3},{"mes":5.2081,"de":0.1888,"n":3},{"mes":5.2104,"de":0.1888,"n":3},{"mes":5.2128,"de":0.1888,"n":3},{"mes":5.2152,"de":0.1888,"n":3},{"mes":5.2176,"de":0.1888,"n":3},{"mes":5.2199,"de":0.1888,"n":3},{"mes":5.2223,"de":0.1888,"n":3},{"mes":5.2247,"de":0.1888,"n":3},{"mes":5.2271,"de":0.1888,"n":3},{"mes":5.2294,"de":0.1888,"n":3},{"mes":5.2318,"de":0.1888,"n":3},{"mes":5.2342,"de":0.1888,"n":3},{"mes":5.2366,"de":0.1888,"n":3},{"mes":5.2389,"de":0.1888,"n":3},{"mes":5.2413,"de":0.1888,"n":3},{"mes":5.2437,"de":0.1888,"n":3},{"mes":5.2461,"de":0.1888,"n":3},{"mes":5.2484,"de":0.1888,"n":3},{"mes":5.2508,"de":0.1888,"n":3},{"mes":5.2532,"de":0.1888,"n":3},{"mes":5.2556,"de":0.1888,"n":3},{"mes":5.2579,"de":0.1888,"n":3},{"mes":5.2603,"de":0.1888,"n":3},{"mes":5.2627,"de":0.1888,"n":3},{"mes":5.2651,"de":0.1888,"n":3},{"mes":5.2674,"de":0.1888,"n":3},{"mes":5.2698,"de":0.1888,"n":3},{"mes":5.2722,"de":0.1888,"n":3},{"mes":5.2746,"de":0.1888,"n":3},{"mes":5.2769,"de":0.1888,"n":3},{"mes":5.2793,"de":0.1888,"n":3},{"mes":5.2817,"de":0.1888,"n":3},{"mes":5.2841,"de":0.1888,"n":3},{"mes":5.2864,"de":0.1888,"n":2},
{"mes":5.2009,"de":0.1993,"n":3},{"mes":5.2033,"de":0.1993,"n":3},{"mes":5.2057,"de":0.1993,"n":3},{"mes":5.2081,"de":0.1993,"n":3},{"mes":5.2104,"de":0.1993,"n":3},{"mes":5.2128,"de":0.1993,"n":3},{"mes":5.2152,"de":0.1993,"n":3},{"mes":5.2176,"de":0.1993,"n":3},{"mes":5.2199,"de":0.1993,"n":3},{"mes":5.2223,"de":0.1993,"n":3},{"mes":5.2247,"de":0.1993,"n":3},{"mes":5.2271,"de":0.1993,"n":3},{"mes":5.2294,"de":0.1993,"n":4},{"mes":5.2318,"de":0.1993,"n":3},{"mes":5.2342,"de":0.1993,"n":3},{"mes":5.2366,"de":0.1993,"n":3},{"mes":5.2389,"de":0.1993,"n":3},{"mes":5.2413,"de":0.1993,"n":3},{"mes":5.2437,"de":0.1993,"n":3},{"mes":5.2461,"de":0.1993,"n":3},{"mes":5.2484,"de":0.1993,"n":3},{"mes":5.2508,"de":0.1993,"n":3},{"mes":5.2532,"de":0.1993,"n":3},{"mes":5.2556,"de":0.1993,"n":3},{"mes":5.2579,"de":0.1993,"n":3},{"mes":5.2603,"de":0.1993,"n":3},{"mes":5.2627,"de":0.1993,"n":3},{"mes":5.2651,"de":0.1993,"n":3},{"mes":5.2674,"de":0.1993,"n":3},{"mes":5.2698,"de":0.1993,"n":3},{"mes":5.2722,"de":0.1993,"n":3},{"mes":5.2746,"de":0.1993,"n":3},{"mes":5.2769,"de":0.1993,"n":3},{"mes":5.2793,"de":0.1993,"n":3},{"mes":5.2817,"de":0.1993,"n":3},{"mes":5.2841,"de":0.1993,"n":3},{"mes":5.2864,"de":0.1993,"n":2},
{"mes":5.2009,"de":0.2098,"n":3},{"mes":5.2033,"de":0.2098,"n":3},{"mes":5.2057,"de":0.2098,"n":3},{"mes":5.2081,"de":0.2098,"n":3},{"mes":5.2104,"de":0.2098,"n":3},{"mes":5.2128,"de":0.2098,"n":3},{"mes":5.2152,"de":0.2098,"n":3},{"mes":5.2176,"de":0.2098,"n":3},{"mes":5.2199,"de":0.2098,"n":3},{"mes":5.2223,"de":0.2098,"n":3},{"mes":5.2247,"de":0.2098,"n":3},{"mes":5.2271,"de":0.2098,"n":3},{"mes":5.2294,"de":0.2098,"n":3},{"mes":5.2318,"de":0.2098,"n":3},{"mes":5.2342,"de":0.2098,"n":3},{"mes":5.2366,"de":0.2098,"n":3},{"mes":5.2389,"de":0.2098,"n":3},{"mes":5.2413,"de":0.2098,"n":3},{"mes":5.2437,"de":0.2098,"n":3},{"mes":5.2461,"de":0.2098,"n":3},{"mes":5.2484,"de":0.2098,"n":3},{"mes":5.2508,"de":0.2098,"n":3},{"mes":5.2532,"de":0.2098,"n":3},{"mes":5.2556,"de":0.2098,"n":3},{"mes":5.2579,"de":0.2098,"n":3},{"mes":5.2603,"de":0.2098,"n":3},{"mes":5.2627,"de":0.2098,"n":3},{"mes":5.2651,"de":0.2098,"n":3},{"mes":5.2674,"de":0.2098,"n":3},{"mes":5.2698,"de":0.2098,"n":3},{"mes":5.2722,"de":0.2098,"n":3},{"mes":5.2746,"de":0.2098,"n":3},{"mes":5.2769,"de":0.2098,"n":3},{"mes":5.2793,"de":0.2098,"n":3},{"mes":5.2817,"de":0.2098,"n":3},{"mes":5.2841,"de":0.2098,"n":3},{"mes":5.2864,"de":0.2098,"n":2},
{"mes":5.2009,"de":0.2203,"n":3},{"mes":5.2033,"de":0.2203,"n":3},{"mes":5.2057,"de":0.2203,"n":3},{"mes":5.2081,"de":0.2203,"n":3},{"mes":5.2104,"de":0.2203,"n":3},{"mes":5.2128,"de":0.2203,"n":3},{"mes":5.2152,"de":0.2203,"n":3},{"mes":5.2176,"de":0.2203,"n":3},{"mes":5.2199,"de":0.2203,"n":3},{"mes":5.2223,"de":0.2203,"n":3},{"mes":5.2247,"de":0.2203,"n":3},{"mes":5.2271,"de":0.2203,"n":3},{"mes":5.2294,"de":0.2203,"n":3},{"mes":5.2318,"de":0.2203,"n":3},{"mes":5.2342,"de":0.2203,"n":3},{"mes":5.2366,"de":0.2203,"n":3},{"mes":5.2389,"de":0.2203,"n":3},{"mes":5.2413,"de":0.2203,"n":3},{"mes":5.2437,"de":0.2203,"n":3},{"mes":5.2461,"de":0.2203,"n":3},{"mes":5.2484,"de":0.2203,"n":3},{"mes":5.2508,"de":0.2203,"n":3},{"mes":5.2532,"de":0.2203,"n":3},{"mes":5.2556,"de":0.2203,"n":3},{"mes":5.2579,"de":0.2203,"n":3},{"mes":5.2603,"de":0.2203,"n":3},{"mes":5.2627,"de":0.2203,"n":3},{"mes":5.2651,"de":0.2203,"n":3},{"mes":5.2674,"de":0.2203,"n":3},{"mes":5.2698,"de":0.2203,"n":3},{"mes":5.2722,"de":0.2203,"n":3},{"mes":5.2746,"de":0.2203,"n":3},{"mes":5.2769,"de":0.2203,"n":3},{"mes":5.2793,"de":0.2203,"n":3},{"mes":5.2817,"de":0.2203,"n":3},{"mes":5.2841,"de":0.2203,"n":3},{"mes":5.2864,"de":0.2203,"n":2},
{"mes":5.2009,"de":0.2308,"n":3},{"mes":5.2033,"de":0.2308,"n":3},{"mes":5.2057,"de":0.2308,"n":4},{"mes":5.2081,"de":0.2308,"n":3},{"mes":5.2104,"de":0.2308,"n":3},{"mes":5.2128,"de":0.2308,"n":3},{"mes":5.2152,"de":0.2308,"n":4},{"mes":5.2176,"de":0.2308,"n":3},{"mes":5.2199,"de":0.2308,"n":3},{"mes":5.2223,"de":0.2308,"n":3},{"mes":5.2247,"de":0.2308,"n":4},{"mes":5.2271,"de":0.2308,"n":3},{"mes":5.2294,"de":0.2308,"n":3},{"mes":5.2318,"de":0.2308,"n":3},{"mes":5.2342,"de":0.2308,"n":3},{"mes":5.2366,"de":0.2308,"n":3},{"mes":5.2389,"de":0.2308,"n":3},{"mes":5.2413,"de":0.2308,"n":3},{"mes":5.2437,"de":0.2308,"n":3},{"mes":5.2461,"de":0.2308,"n":3},{"mes":5.2484,"de":0.2308,"n":3},{"mes":5.2508,"de":0.2308,"n":3},{"mes":5.2532,"de":0.2308,"n":3},{"mes":5.2556,"de":0.2308,"n":3},{"mes":5.2579,"de":0.2308,"n":3},{"mes":5.2603,"de":0.2308,"n":3},{"mes":5.2627,"de":0.2308,"n":3},{"mes":5.2651,"de":0.2308,"n":3},{"mes":5.2674,"de":0.2308,"n":3},{"mes":5.2698,"de":0.2308,"n":3},{"mes":5.2722,"de":0.2308,"n":3},{"mes":5.2746,"de":0.2308,"n":3},{"mes":5.2769,"de":0.2308,"n":3},{"mes":5.2793,"de":0.2308,"n":3},{"mes":5.2817,"de":0.2308,"n":3},{"mes":5.2841,"de":0.2308,"n":3},{"mes":5.2864,"de":0.2308,"n":2},
{"mes":5.2009,"de":0.2413,"n":3},{"mes":5.2033,"de":0.2413,"n":3},{"mes":5.2057,"de":0.2413,"n":3},{"mes":5.2081,"de":0.2413,"n":4},{"mes":5.2104,"de":0.2413,"n":3},{"mes":5.2128,"de":0.2413,"n":3},{"mes":5.2152,"de":0.2413,"n":3},{"mes":5.2176,"de":0.2413,"n":3},{"mes":5.2199,"de":0.2413,"n":3},{"mes":5.2223,"de":0.2413,"n":3},{"mes":5.2247,"de":0.2413,"n":3},{"mes":5.2271,"de":0.2413,"n":3},{"mes":5.2294,"de":0.2413,"n":3},{"mes":5.2318,"de":0.2413,"n":3},{"mes":5.2342,"de":0.2413,"n":3},{"mes":5.2366,"de":0.2413,"n":3},{"mes":5.2389,"de":0.2413,"n":3},{"mes":5.2413,"de":0.2413,"n":3},{"mes":5.2437,"de":0.2413,"n":3},{"mes":5.2461,"de":0.2413,"n":2},{"mes":5.2484,"de":0.2413,"n":3},{"mes":5.2508,"de":0.2413,"n":3},{"mes":5.2532,"de":0.2413,"n":3},{"mes":5.2556,"de":0.2413,"n":3},{"mes":5.2579,"de":0.2413,"n":3},{"mes":5.2603,"de":0.2413,"n":3},{"mes":5.2627,"de":0.2413,"n":3},{"mes":5.2651,"de":0.2413,"n":3},{"mes":5.2674,"de":0.2413,"n":3},{"mes":5.2698,"de":0.2413,"n":3},{"mes":5.2722,"de":0.2413,"n":3},{"mes":5.2746,"de":0.2413,"n":3},{"mes":5.2769,"de":0.2413,"n":3},{"mes":5.2793,"de":0.2413,"n":3},{"mes":5.2817,"de":0.2413,"n":3},{"mes":5.2841,"de":0.2413,"n":3},{"mes":5.2864,"de":0.2413,"n":2},
{"mes":5.2009,"de":0.2518,"n":4},{"mes":5.2033,"de":0.2518,"n":3},{"mes":5.2057,"de":0.2518,"n":3},{"mes":5.2081,"de":0.2518,"n":3},{"mes":5.2104,"de":0.2518,"n":3},{"mes":5.2128,"de":0.2518,"n":3},{"mes":5.2152,"de":0.2518,"n":3},{"mes":5.2176,"de":0.2518,"n":3},{"mes":5.2199,"de":0.2518,"n":4},{"mes":5.2223,"de":0.2518,"n":3},{"mes":5.2247,"de":0.2518,"n":3},{"mes":5.2271,"de":0.2518,"n":3},{"mes":5.2294,"de":0.2518,"n":3},{"mes":5.2318,"de":0.2518,"n":3},{"mes":5.2342,"de":0.2518,"n":3},{"mes":5.2366,"de":0.2518,"n":3},{"mes":5.2389,"de":0.2518,"n":3},{"mes":5.2413,"de":0.2518,"n":3},{"mes":5.2437,"de":0.2518,"n":3},{"mes":5.2461,"de":0.2518,"n":3},{"mes":5.2484,"de":0.2518,"n":3},{"mes":5.2508,"de":0.2518,"n":3},{"mes":5.2532,"de":0.2518,"n":3},{"mes":5.2556,"de":0.2518,"n":3},{"mes":5.2579,"de":0.2518,"n":3},{"mes":5.2603,"de":0.2518,"n":3},{"mes":5.2627,"de":0.2518,"n":3},{"mes":5.2651,"de":0.2518,"n":3},{"mes":5.2674,"de":0.2518,"n":3},{"mes":5.2698,"de":0.2518,"n":3},{"mes":5.2722,"de":0.2518,"n":3},{"mes":5.2746,"de":0.2518,"n":3},{"mes":5.2769,"de":0.2518,"n":3},{"mes":5.2793,"de":0.2518,"n":3},{"mes":5.2817,"de":0.2518,"n":3},{"mes":5.2841,"de":0.2518,"n":3},{"mes":5.2864,"de":0.2518,"n":2},
{"mes":5.2009,"de":0.2623,"n":3},{"mes":5.2033,"de":0.2623,"n":3},{"mes":5.2057,"de":0.2623,"n":3},{"mes":5.2081,"de":0.2623,"n":3},{"mes":5.2104,"de":0.2623,"n":2},{"mes":5.2128,"de":0.2623,"n":4},{"mes":5.2152,"de":0.2623,"n":3},{"mes":5.2176,"de":0.2623,"n":3},{"mes":5.2199,"de":0.2623,"n":4},{"mes":5.2223,"de":0.2623,"n":3},{"mes":5.2247,"de":0.2623,"n":3},{"mes":5.2271,"de":0.2623,"n":3},{"mes":5.2294,"de":0.2623,"n":3},{"mes":5.2318,"de":0.2623,"n":3},{"mes":5.2342,"de":0.2623,"n":3},{"mes":5.2366,"de":0.2623,"n":3},{"mes":5.2389,"de":0.2623,"n":3},{"mes":5.2413,"de":0.2623,"n":3},{"mes":5.2437,"de":0.2623,"n":3},{"mes":5.2461,"de":0.2623,"n":3},{"mes":5.2484,"de":0.2623,"n":3},{"mes":5.2508,"de":0.2623,"n":3},{"mes":5.2532,"de":0.2623,"n":3},{"mes":5.2556,"de":0.2623,"n":3},{"mes":5.2579,"de":0.2623,"n":3},{"mes":5.2603,"de":0.2623,"n":3},{"mes":5.2627,"de":0.2623,"n":3},{"mes":5.2651,"de":0.2623,"n":3},{"mes":5.2674,"de":0.2623,"n":3},{"mes":5.2698,"de":0.2623,"n":3},{"mes":5.2722,"de":0.2623,"n":3},{"mes":5.2746,"de":0.2623,"n":3},{"mes":5.2769,"de":0.2623,"n":3},{"mes":5.2793,"de":0.2623,"n":3},{"mes":5.2817,"de":0.2623,"n":3},{"mes":5.2841,"de":0.2623,"n":3},{"mes":5.2864,"de":0.2623,"n":2},
{"mes":5.2009,"de":0.2728,"n":3},{"mes":5.2033,"de":0.2728,"n":4},{"mes":5.2057,"de":0.2728,"n":3},{"mes":5.2081,"de":0.2728,"n":3},{"mes":5.2104,"de":0.2728,"n":3},{"mes":5.2128,"de":0.2728,"n":3},{"mes":5.2152,"de":0.2728,"n":3},{"mes":5.2176,"de":0.2728,"n":3},{"mes":5.2199,"de":0.2728,"n":3},{"mes":5.2223,"de":0.2728,"n":3},{"mes":5.2247,"de":0.2728,"n":3},{"mes":5.2271,"de":0.2728,"n":3},{"mes":5.2294,"de":0.2728,"n":3},{"mes":5.2318,"de":0.2728,"n":3},{"mes":5.2342,"de":0.2728,"n":3},{"mes":5.2366,"de":0.2728,"n":2},{"mes":5.2389,"de":0.2728,"n":3},{"mes":5.2413,"de":0.2728,"n":3},{"mes":5.2437,"de":0.2728,"n":3},{"mes":5.2461,"de":0.2728,"n":3},{"mes":5.2484,"de":0.2728,"n":3},{"mes":5.2508,"de":0.2728,"n":3},{"mes":5.2532,"de":0.2728,"n":3},{"mes":5.2556,"de":0.2728,"n":3},{"mes":5.2579,"de":0.2728,"n":3},{"mes":5.2603,"de":0.2728,"n":3},{"mes":5.2627,"de":0.2728,"n":3},{"mes":5.2651,"de":0.2728,"n":3},{"mes":5.2674,"de":0.2728,"n":3},{"mes":5.2698,"de":0.2728,"n":3},{"mes":5.2722,"de":0.2728,"n":3},{"mes":5.2746,"de":0.2728,"n":3},{"mes":5.2769,"de":0.2728,"n":3},{"mes":5.2793,"de":0.2728,"n":3},{"mes":5.2817,"de":0.2728,"n":3},{"mes":5.2841,"de":0.2728,"n":3},{"mes":5.2864,"de":0.2728,"n":2},
{"mes":5.2009,"de":0.2833,"n":3},{"mes":5.2033,"de":0.2833,"n":3},{"mes":5.2057,"de":0.2833,"n":3},{"mes":5.2081,"de":0.2833,"n":3},{"mes":5.2104,"de":0.2833,"n":3},{"mes":5.2128,"de":0.2833,"n":3},{"mes":5.2152,"de":0.2833,"n":4},{"mes":5.2176,"de":0.2833,"n":3},{"mes":5.2199,"de":0.2833,"n":3},{"mes":5.2223,"de":0.2833,"n":3},{"mes":5.2247,"de":0.2833,"n":2},{"mes":5.2271,"de":0.2833,"n":3},{"mes":5.2294,"de":0.2833,"n":3},{"mes":5.2318,"de":0.2833,"n":3},{"mes":5.2342,"de":0.2833,"n":3},{"mes":5.2366,"de":0.2833,"n":3},{"mes":5.2389,"de":0.2833,"n":3},{"mes":5.2413,"de":0.2833,"n":3},{"mes":5.2437,"de":0.2833,"n":3},{"mes":5.2461,"de":0.2833,"n":3},{"mes":5.2484,"de":0.2833,"n":3},{"mes":5.2508,"de":0.2833,"n":3},{"mes":5.2532,"de":0.2833,"n":3},{"mes":5.2556,"de":0.2833,"n":3},{"mes":5.2579,"de":0.2833,"n":3},{"mes":5.2603,"de":0.2833,"n":3},{"mes":5.2627,"de":0.2833,"n":3},{"mes":5.2651,"de":0.2833,"n":3},{"mes":5.2674,"de":0.2833,"n":3},{"mes":5.2698,"de":0.2833,"n":3},{"mes":5.2722,"de":0.2833,"n":3},{"mes":5.2746,"de":0.2833,"n":3},{"mes":5.2769,"de":0.2833,"n":3},{"mes":5.2793,"de":0.2833,"n":3},{"mes":5.2817,"de":0.2833,"n":3},{"mes":5.2841,"de":0.2833,"n":3},
{"mes":5.2009,"de":0.2938,"n":3},{"mes":5.2033,"de":0.2938,"n":4},{"mes":5.2057,"de":0.2938,"n":3},{"mes":5.2081,"de":0.2938,"n":3},{"mes":5.2104,"de":0.2938,"n":3},{"mes":5.2128,"de":0.2938,"n":4},{"mes":5.2152,"de":0.2938,"n":3},{"mes":5.2176,"de":0.2938,"n":4},{"mes":5.2199,"de":0.2938,"n":3},{"mes":5.2223,"de":0.2938,"n":3},{"mes":5.2247,"de":0.2938,"n":3},{"mes":5.2271,"de":0.2938,"n":3},{"mes":5.2294,"de":0.2938,"n":3},{"mes":5.2318,"de":0.2938,"n":3},{"mes":5.2342,"de":0.2938,"n":3},{"mes":5.2366,"de":0.2938,"n":3},{"mes":5.2389,"de":0.2938,"n":3},{"mes":5.2413,"de":0.2938,"n":3},{"mes":5.2437,"de":0.2938,"n":3},{"mes":5.2461,"de":0.2938,"n":3},{"mes":5.2484,"de":0.2938,"n":3},{"mes":5.2508,"de":0.2938,"n":3},{"mes":5.2532,"de":0.2938,"n":3},{"mes":5.2556,"de":0.2938,"n":3},{"mes":5.2579,"de":0.2938,"n":3},{"mes":5.2603,"de":0.2938,"n":2},{"mes":5.2627,"de":0.2938,"n":3},{"mes":5.2651,"de":0.2938,"n":3},{"mes":5.2674,"de":0.2938,"n":3},{"mes":5.2698,"de":0.2938,"n":3},{"mes":5.2722,"de":0.2938,"n":3},{"mes":5.2746,"de":0.2938,"n":3},{"mes":5.2769,"de":0.2938,"n":3},{"mes":5.2793,"de":0.2938,"n":3},{"mes":5.2817,"de":0.2938,"n":3},{"mes":5.2841,"de":0.2938,"n":3},
{"mes":5.2009,"de":0.3043,"n":2},{"mes":5.2033,"de":0.3043,"n":2},{"mes":5.2057,"de":0.3043,"n":2},{"mes":5.2128,"de":0.3043,"n":2},{"mes":5.2152,"de":0.3043,"n":2},{"mes":5.2271,"de":0.3043,"n":2},{"mes":5.2294,"de":0.3043,"n":2},{"mes":5.2366,"de":0.3043,"n":2},{"mes":5.2413,"de":0.3043,"n":2},{"mes":5.2437,"de":0.3043,"n":2},{"mes":5.2532,"de":0.3043,"n":2},{"mes":5.2556,"de":0.3043,"n":2},{"mes":5.2603,"de":0.3043,"n":2},{"mes":5.2651,"de":0.3043,"n":2},{"mes":5.2769,"de":0.3043,"n":2}
]},
"resolve":{"axis":{"x":"independent","y":"independent"}},
"layer":[
{"data":{"name":"cells"},
 "mark":{"type":"point","shape":"M-1,-0.622H1V0.622H-1Z","filled":false,"stroke":"#262626","strokeWidth":1.5,"opacity":1},
 "encoding":{
  "x":{"field":"mes","type":"quantitative","scale":{"domain":[5.195,5.29],"nice":false,"zero":false},
   "axis":{"orient":"bottom","values":[5.2,5.21,5.22,5.23,5.24,5.25,5.26,5.27,5.28,5.29],"tickSize":-13,"labelPadding":22,"labelExpr":"'' + datum.value","title":null}},
  "y":{"field":"de","type":"quantitative","scale":{"domain":[-0.1,0.32],"nice":false,"zero":false},
   "axis":{"orient":"left","values":[-0.1,-0.05,0,0.05,0.1,0.15,0.2,0.25,0.3],"tickSize":-23,"labelPadding":28,"labelExpr":"'' + datum.value","title":"ΔE (GeV)","titleX":-51,"titleY":1,"titleAngle":270,"titleAlign":"right","titleBaseline":"alphabetic"}},
  "size":{"field":"n","type":"quantitative","scale":{"type":"pow","exponent":2,"domain":[0,20],"range":[0,400]},"legend":null}}},
{"data":{"values":[{"m1":5.272,"m2":5.286,"e1":-0.075,"e2":0.075}]},
 "mark":{"type":"rect","filled":false,"stroke":"#8c8cff","strokeWidth":1},
 "encoding":{
  "x":{"field":"m1","type":"quantitative","scale":{"domain":[5.195,5.29],"nice":false,"zero":false},
   "axis":{"orient":"bottom","values":[5.196,5.198,5.202,5.204,5.206,5.208,5.212,5.214,5.216,5.218,5.222,5.224,5.226,5.228,5.232,5.234,5.236,5.238,5.242,5.244,5.246,5.248,5.252,5.254,5.256,5.258,5.262,5.264,5.266,5.268,5.272,5.274,5.276,5.278,5.282,5.284,5.286,5.288],"tickSize":-7,"labels":false,"domain":false,"title":null}},
  "x2":{"field":"m2"},
  "y":{"field":"e1","type":"quantitative","scale":{"domain":[-0.1,0.32],"nice":false,"zero":false},
   "axis":{"orient":"left","values":[-0.09,-0.08,-0.07,-0.06,-0.04,-0.03,-0.02,-0.01,0.01,0.02,0.03,0.04,0.06,0.07,0.08,0.09,0.11,0.12,0.13,0.14,0.16,0.17,0.18,0.19,0.21,0.22,0.23,0.24,0.26,0.27,0.28,0.29,0.31],"tickSize":-12,"labels":false,"domain":false,"title":null}},
  "y2":{"field":"e2"}}},
{"data":{"values":[{"m":5.2781,"e":0.0097}]},
 "mark":{"type":"point","shape":"M-1,0C-1,-0.4816,-0.5523,-0.872,0,-0.872C0.5523,-0.872,1,-0.4816,1,0C1,0.4816,0.5523,0.872,0,0.872C-0.5523,0.872,-1,0.4816,-1,0Z","filled":false,"stroke":"#ff0000","strokeWidth":5,"size":11881,"opacity":1},
 "encoding":{
  "x":{"field":"m","type":"quantitative","scale":{"domain":[5.195,5.29],"nice":false,"zero":false},
   "axis":{"orient":"top","values":[5.196,5.198,5.202,5.204,5.206,5.208,5.212,5.214,5.216,5.218,5.222,5.224,5.226,5.228,5.232,5.234,5.236,5.238,5.242,5.244,5.246,5.248,5.252,5.254,5.256,5.258,5.262,5.264,5.266,5.268,5.272,5.274,5.276,5.278,5.282,5.284,5.286,5.288],"tickSize":-6,"labels":false,"domain":false,"title":null}},
  "y":{"field":"e","type":"quantitative","scale":{"domain":[-0.1,0.32],"nice":false,"zero":false},
   "axis":{"orient":"right","values":[-0.09,-0.08,-0.07,-0.06,-0.04,-0.03,-0.02,-0.01,0.01,0.02,0.03,0.04,0.06,0.07,0.08,0.09,0.11,0.12,0.13,0.14,0.16,0.17,0.18,0.19,0.21,0.22,0.23,0.24,0.26,0.27,0.28,0.29,0.31],"tickSize":-12,"labels":false,"domain":false,"title":null}}}},
{"data":{"values":[{"m1":5.2707,"e1":0.1095,"m2":5.2756,"e2":0.0618}]},
 "mark":{"type":"rule","stroke":"#800080","strokeWidth":5},
 "encoding":{
  "x":{"field":"m1","type":"quantitative","scale":{"domain":[5.195,5.29],"nice":false,"zero":false},"axis":null},
  "y":{"field":"e1","type":"quantitative","scale":{"domain":[-0.1,0.32],"nice":false,"zero":false},"axis":null},
  "x2":{"field":"m2"},"y2":{"field":"e2"}}},
{"data":{"values":[{"m":5.2756,"e":0.0618}]},
 "mark":{"type":"point","shape":"M0,1L-0.85,-1L0.85,-1Z","filled":true,"fill":"#800080","strokeWidth":0,"size":289,"angle":323.7,"opacity":1},
 "encoding":{
  "x":{"field":"m","type":"quantitative","scale":{"domain":[5.195,5.29],"nice":false,"zero":false},"axis":null},
  "y":{"field":"e","type":"quantitative","scale":{"domain":[-0.1,0.32],"nice":false,"zero":false},"axis":null}}},
{"data":{"values":[{"m1":5.2512,"m2":5.2723,"e1":0.1532,"e2":0.0963}]},
 "mark":{"type":"rect","fill":"white","stroke":"black","strokeWidth":2.5},
 "encoding":{
  "x":{"field":"m1","type":"quantitative","scale":{"domain":[5.195,5.29],"nice":false,"zero":false},
   "axis":{"orient":"top","values":[5.2,5.21,5.22,5.23,5.24,5.25,5.26,5.27,5.28,5.29],"tickSize":-12,"labels":false,"title":null}},
  "x2":{"field":"m2"},
  "y":{"field":"e1","type":"quantitative","scale":{"domain":[-0.1,0.32],"nice":false,"zero":false},
   "axis":{"orient":"right","values":[-0.1,-0.05,0,0.05,0.1,0.15,0.2,0.25,0.3],"tickSize":-23,"labels":false,"title":null}},
  "y2":{"field":"e2"}}},
{"data":{"values":[{"m":5.2617,"e":0.1154,"label":"Signal"}]},
 "mark":{"type":"text","font":"DejaVu Sans","fontSize":40,"color":"#ff0000","align":"center","baseline":"alphabetic"},
 "encoding":{
  "x":{"field":"m","type":"quantitative","scale":{"domain":[5.195,5.29],"nice":false,"zero":false},"axis":null},
  "y":{"field":"e","type":"quantitative","scale":{"domain":[-0.1,0.32],"nice":false,"zero":false},"axis":null},
  "text":{"field":"label"}}},
{"data":{"values":[{"m":5.2717,"e":-0.1414,"label":"m"},{"m":5.2776,"e":-0.1414,"label":"(GeV/c"},{"m":5.2882,"e":-0.1414,"label":")"}]},
 "mark":{"type":"text","font":"DejaVu Sans","fontWeight":"bold","fontSize":20,"color":"#000","align":"left","baseline":"alphabetic"},
 "encoding":{
  "x":{"field":"m","type":"quantitative","scale":{"domain":[5.195,5.29],"nice":false,"zero":false},"axis":null},
  "y":{"field":"e","type":"quantitative","scale":{"domain":[-0.1,0.32],"nice":false,"zero":false},"axis":null},
  "text":{"field":"label"}}},
{"data":{"values":[{"m":5.2744,"e":-0.1432,"label":"ES"},{"m":5.2870,"e":-0.1369,"label":"2"}]},
 "mark":{"type":"text","font":"DejaVu Sans","fontWeight":"bold","fontSize":14,"color":"#000","align":"left","baseline":"alphabetic"},
 "encoding":{
  "x":{"field":"m","type":"quantitative","scale":{"domain":[5.195,5.29],"nice":false,"zero":false},"axis":null},
  "y":{"field":"e","type":"quantitative","scale":{"domain":[-0.1,0.32],"nice":false,"zero":false},"axis":null},
  "text":{"field":"label"}}}
]
}
